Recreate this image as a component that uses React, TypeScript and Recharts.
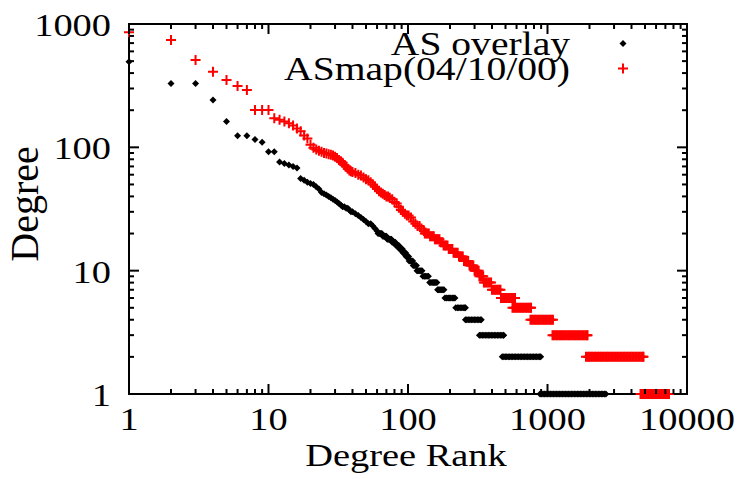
import { Label, Legend, ReferenceArea, Scatter, ScatterChart, XAxis, YAxis } from 'recharts'

const WIDTH = 741
const HEIGHT = 479
const MARGIN = { top: 24, right: 54, bottom: 0, left: 0 }
const PLOT_TOP = MARGIN.top
const PLOT_RIGHT = WIDTH - MARGIN.right
const FONT = '"Liberation Serif", "Times New Roman", serif'

// [rank, degree] for the top of each curve
const overlayHead: [number, number][] = [
  [1, 495], [2, 330], [3, 330], [4, 242], [5, 162], [6, 124], [7, 124], [8, 116],
  [9, 110], [10, 92], [11, 92], [12, 76], [13, 74], [14, 72], [15, 70], [16, 68],
  [17, 56], [18, 54], [19, 52], [20, 51], [21, 50], [22, 48], [23, 46], [24, 43],
  [25, 42], [26, 41], [27, 40], [28, 39], [29, 38], [30, 37], [31, 36], [32, 35],
  [33, 34], [34, 33], [35, 33], [36, 32], [37, 32], [38, 31], [39, 30], [40, 30],
  [42, 29], [44, 28], [46, 27], [48, 26], [50, 25], [52, 24], [54, 24], [56, 23],
  [58, 22], [60, 21],
]

// low degrees: many ranks share one integer degree
const overlayRuns: { degree: number; ranks: number[] }[] = [
  { degree: 20, ranks: [61, 62, 63, 64, 65] },
  { degree: 19, ranks: [66, 67, 68, 69, 70] },
  { degree: 18, ranks: [71, 72, 73, 74, 75, 76] },
  { degree: 17, ranks: [77, 78, 79, 80, 81] },
  { degree: 16, ranks: [82, 83, 84, 85, 86] },
  { degree: 15, ranks: [87, 88, 89, 90, 91] },
  { degree: 14, ranks: [92, 93, 94, 95, 96] },
  { degree: 13, ranks: [97, 98, 99, 100, 101] },
  { degree: 12, ranks: [102, 104, 106, 108] },
  { degree: 11, ranks: [109, 111, 113, 115] },
  { degree: 10, ranks: [116, 118, 120, 122, 124, 126] },
  { degree: 9, ranks: [128, 131, 134, 137, 140] },
  { degree: 8, ranks: [143, 146, 149, 152, 155, 158, 161] },
  { degree: 7, ranks: [163, 166, 169, 172, 175, 178, 181] },
  { degree: 6, ranks: [184, 189, 194, 198, 203, 208, 213, 217] },
  { degree: 5, ranks: [220, 226, 231, 237, 243, 249, 255, 258] },
  { degree: 4, ranks: [258, 264, 271, 278, 285, 292, 299, 306, 314, 322, 330, 335] },
  {
    degree: 3,
    ranks: [325, 333, 341, 350, 359, 368, 377, 386, 396, 406, 416, 426, 437, 448, 459,
      470, 482, 485],
  },
  {
    degree: 2,
    ranks: [474, 486, 498, 510, 523, 536, 549, 563, 577, 591, 606, 621, 637, 653, 669,
      686, 703, 720, 738, 757, 776, 795, 815, 835, 856, 877, 894],
  },
  {
    degree: 1,
    ranks: [884, 906, 929, 952, 976, 1000, 1025, 1051, 1077, 1104, 1132, 1160, 1189,
      1219, 1249, 1280, 1312, 1345, 1379, 1413, 1449, 1485, 1522, 1560, 1599, 1639,
      1680, 1722, 1765, 1809, 1855, 1901, 1948, 1997, 2047, 2098, 2151, 2204, 2260,
      2316, 2374, 2433, 2494, 2556, 2620],
  },
]

const asmapHead: [number, number][] = [
  [1, 858], [2, 743], [3, 511], [4, 411], [5, 352], [6, 315], [7, 292], [8, 201],
  [9, 201], [10, 201], [11, 172], [12, 167], [13, 162], [14, 157], [15, 150], [16, 142],
  [17, 135], [18, 125], [19, 118], [20, 105], [21, 99], [22, 96], [23, 94], [24, 92],
  [25, 90], [26, 89], [27, 88], [28, 87], [29, 86], [30, 84], [31, 82], [32, 79],
  [33, 77], [34, 75], [35, 72], [36, 70], [37, 67], [38, 65], [39, 64], [40, 63],
  [42, 62], [44, 60], [46, 59], [48, 57], [50, 55], [52, 54], [54, 52], [56, 50],
  [58, 48], [60, 46], [62, 44], [64, 43], [66, 42], [68, 41], [70, 40], [72, 40],
  [74, 39], [77, 38], [80, 36], [83, 35], [86, 33], [89, 31], [92, 30], [95, 29],
  [98, 28], [101, 28], [105, 27], [109, 25], [113, 24], [117, 23], [121, 23],
  [125, 22], [130, 21],
]

const asmapRuns: { degree: number; ranks: number[] }[] = [
  { degree: 20, ranks: [132, 135, 138, 141] },
  { degree: 19, ranks: [144, 147, 150, 153] },
  { degree: 18, ranks: [156, 159, 162, 165, 168] },
  { degree: 17, ranks: [171, 174, 177] },
  { degree: 16, ranks: [180, 184, 188, 192] },
  { degree: 15, ranks: [196, 200, 204, 208] },
  { degree: 14, ranks: [212, 217, 222, 227] },
  { degree: 13, ranks: [232, 237, 242, 247] },
  { degree: 12, ranks: [252, 258, 264, 270] },
  { degree: 11, ranks: [276, 282, 288, 294] },
  { degree: 10, ranks: [300, 307, 314, 321] },
  { degree: 9, ranks: [325, 332, 339, 346] },
  { degree: 8, ranks: [350, 358, 367, 376, 385, 394] },
  { degree: 7, ranks: [400, 410, 420, 430, 441, 452, 460] },
  { degree: 6, ranks: [464, 476, 488, 500, 512, 525, 538, 552, 566, 580, 585] },
  {
    degree: 5,
    ranks: [561, 575, 589, 604, 619, 635, 651, 667, 684, 701, 718, 736, 754, 762],
  },
  {
    degree: 4,
    ranks: [755, 774, 793, 813, 833, 854, 875, 897, 920, 943, 966, 990, 1015, 1041,
      1067, 1094],
  },
  {
    degree: 3,
    ranks: [1086, 1113, 1141, 1170, 1199, 1229, 1260, 1291, 1323, 1356, 1390, 1425,
      1461, 1497, 1535, 1573, 1612, 1653, 1694, 1736, 1780, 1824, 1870, 1917, 1936],
  },
  {
    degree: 2,
    ranks: [1888, 1935, 1984, 2033, 2084, 2136, 2190, 2244, 2300, 2358, 2417, 2477,
      2539, 2603, 2668, 2734, 2803, 2873, 2945, 3018, 3094, 3171, 3250, 3332, 3415,
      3500, 3588, 3678, 3770, 3864, 3960, 4059, 4161, 4265, 4372, 4481, 4593, 4708,
      4825, 4877],
  },
  {
    degree: 1,
    ranks: [4645, 4761, 4880, 5002, 5127, 5256, 5387, 5522, 5660, 5801, 5946, 6095,
      6247, 6404, 6564, 6728, 6896, 7069, 7245, 7430],
  },
]

const X_MAJOR = [1, 10, 100, 1000, 10000]
const Y_MAJOR = [1, 10, 100, 1000]

function withMinor(majors: number[]) {
  return majors.flatMap((m, i) =>
    i === majors.length - 1 ? [m] : [1, 2, 3, 4, 5, 6, 7, 8, 9].map((k) => k * m),
  )
}

function toPoints(head: [number, number][], runs: { degree: number; ranks: number[] }[]) {
  return [
    ...head.map(([rank, degree]) => ({ rank, degree })),
    ...runs.flatMap((run) => run.ranks.map((rank) => ({ rank, degree: run.degree }))),
  ]
}

const overlayData = toPoints(overlayHead, overlayRuns)
const asmapData = toPoints(asmapHead, asmapRuns)

function XTick(props: any) {
  const { x, y, payload } = props
  const major = X_MAJOR.includes(payload.value)
  const len = major ? 10 : 5
  return (
    <g>
      <line x1={x} x2={x} y1={y} y2={y - len} stroke="#000" strokeWidth={2} />
      <line x1={x} x2={x} y1={PLOT_TOP} y2={PLOT_TOP + len} stroke="#000" strokeWidth={2} />
      {major && (
        <text
          transform={`translate(${x},${y + 36}) scale(1.2,1)`}
          textAnchor="middle"
          fontFamily={FONT}
          fontSize={32}
          fill="#000"
        >
          {payload.value}
        </text>
      )}
    </g>
  )
}

function YTick(props: any) {
  const { x, y, payload } = props
  const major = Y_MAJOR.includes(payload.value)
  const len = major ? 10 : 5
  return (
    <g>
      <line x1={x} x2={x + len} y1={y} y2={y} stroke="#000" strokeWidth={2} />
      <line x1={PLOT_RIGHT} x2={PLOT_RIGHT - len} y1={y} y2={y} stroke="#000" strokeWidth={2} />
      {major && (
        <text
          transform={`translate(${x - 18},${y + 12}) scale(1.2,1)`}
          textAnchor="end"
          fontFamily={FONT}
          fontSize={32}
          fill="#000"
        >
          {payload.value}
        </text>
      )}
    </g>
  )
}

function Diamond({ cx, cy, fill = '#000' }: any) {
  const r = 3.5
  return (
    <polygon
      points={`${cx},${cy - r} ${cx + r},${cy} ${cx},${cy + r} ${cx - r},${cy}`}
      fill={fill}
    />
  )
}

function Plus({ cx, cy, stroke = '#ff0000' }: any) {
  const r = 5
  return (
    <path
      d={`M${cx - r},${cy}H${cx + r}M${cx},${cy - r}V${cy + r}`}
      stroke={stroke}
      strokeWidth={2}
      fill="none"
    />
  )
}

const SERIES = [
  { name: 'AS overlay', color: '#000000', marker: Diamond },
  { name: 'ASmap(04/10/00)', color: '#ff0000', marker: Plus },
]

function LegendBox({ payload }: any) {
  const items = (payload ?? []).map((p: any) => SERIES.find((s) => s.name === p.value) ?? SERIES[0])
  return (
    <svg width={WIDTH} height={90} style={{ display: 'block', overflow: 'visible' }}>
      {items.map((item: (typeof SERIES)[number], i: number) => {
        const Marker = item.marker
        return (
          <g key={item.name}>
            <text
              transform={`translate(570,${55 + i * 25}) scale(1.2,1)`}
              textAnchor="end"
              fontFamily={FONT}
              fontSize={33}
              fill="#000"
            >
              {item.name}
            </text>
            <Marker cx={623} cy={43.5 + i * 25} />
          </g>
        )
      })}
    </svg>
  )
}

function YLabel({ viewBox }: any) {
  const { x, y, height } = viewBox
  return (
    <text
      transform={`translate(${x + 38},${y + height / 2 - 5}) rotate(-90)`}
      textAnchor="middle"
      fontFamily={FONT}
      fontSize={40}
      fill="#000"
    >
      Degree
    </text>
  )
}

function XLabel({ viewBox }: any) {
  const { x, y, width } = viewBox
  return (
    <text
      transform={`translate(${x + width / 2 - 2},${y + 72}) scale(1.2,1)`}
      textAnchor="middle"
      fontFamily={FONT}
      fontSize={32}
      fill="#000"
    >
      Degree Rank
    </text>
  )
}

export default function App() {
  return (
    <div style={{ width: WIDTH, height: HEIGHT, background: '#fff' }}>
      <style>{'body{margin:0}'}</style>
      <ScatterChart width={WIDTH} height={HEIGHT} margin={MARGIN}>
        <XAxis
          dataKey="rank"
          type="number"
          scale="log"
          domain={[1, 10000]}
          ticks={withMinor(X_MAJOR)}
          interval={0}
          height={85}
          tickSize={0}
          tickMargin={0}
          axisLine={false}
          tickLine={false}
          tick={<XTick />}
        >
          <Label content={<XLabel />} />
        </XAxis>
        <YAxis
          dataKey="degree"
          type="number"
          scale="log"
          domain={[1, 1000]}
          ticks={withMinor(Y_MAJOR)}
          interval={0}
          width={129}
          tickSize={0}
          tickMargin={0}
          axisLine={false}
          tickLine={false}
          tick={<YTick />}
        >
          <Label content={<YLabel />} />
        </YAxis>
        <ReferenceArea
          x1={1}
          x2={10000}
          y1={1}
          y2={1000}
          fill="none"
          stroke="#000"
          strokeWidth={2}
        />
        <Scatter
          name="AS overlay"
          data={overlayData}
          fill="#000"
          shape={<Diamond />}
          isAnimationActive={false}
        />
        <Scatter
          name="ASmap(04/10/00)"
          data={asmapData}
          fill="#ff0000"
          shape={<Plus />}
          isAnimationActive={false}
        />
        <Legend
          layout="vertical"
          align="center"
          verticalAlign="middle"
          wrapperStyle={{ top: 0, left: 0, width: WIDTH }}
          content={<LegendBox />}
        />
      </ScatterChart>
    </div>
  )
}
